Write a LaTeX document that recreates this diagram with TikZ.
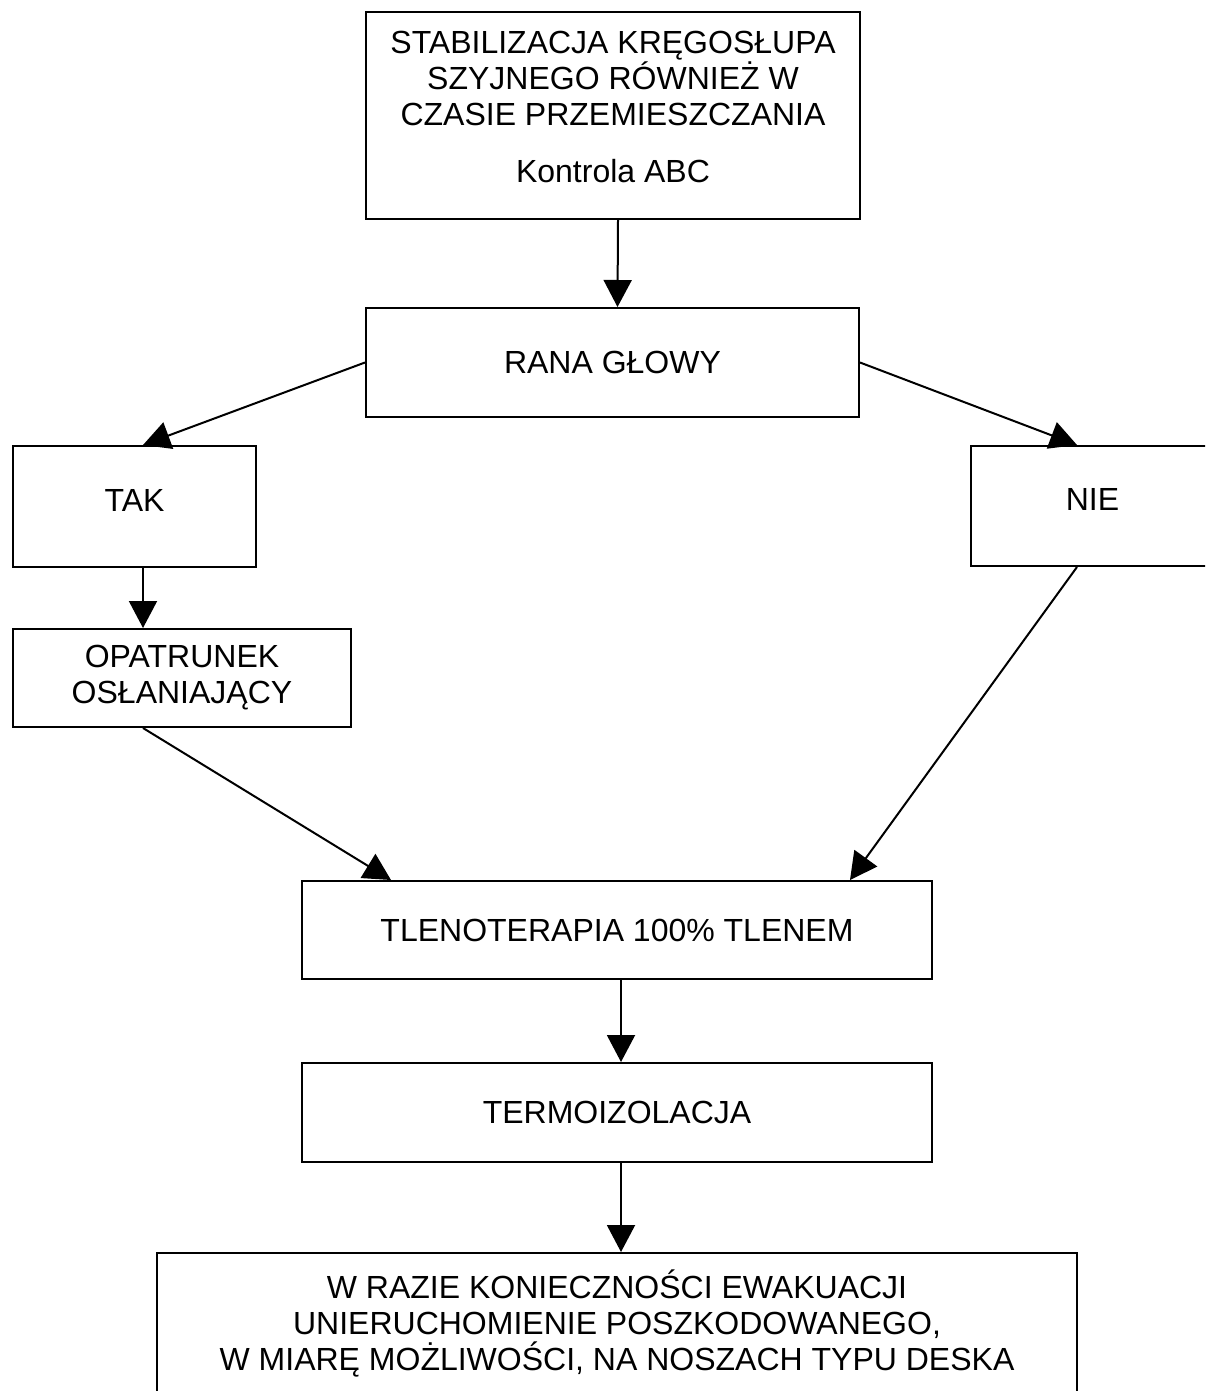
\documentclass[tikz,border=0pt]{standalone}
\usepackage{fontspec}
\setmainfont{Liberation Sans}
\usetikzlibrary{arrows.meta}

\begin{document}
\begin{tikzpicture}[x=0.5pt,y=-0.5pt,
  box/.style={draw, line width=1pt, rectangle, align=center, inner sep=0pt,
    font=\fontsize{16}{18}\selectfont},
  arr/.style={line width=1pt, -{Triangle[length=13.5pt,width=14pt]}}]
\clip (0,0) rectangle (1205,1391);

\node[box, minimum width=247pt, minimum height=103.5pt] (top) at (613,115.5)
  {STABILIZACJA KRĘGOSŁUPA\\SZYJNEGO RÓWNIEŻ W\\CZASIE PRZEMIESZCZANIA\\[10.5pt]Kontrola ABC\rule[-9pt]{0pt}{9pt}};
\node[box, minimum width=246.5pt, minimum height=54.5pt] (head) at (612.5,362.5) {RANA GŁOWY};
\node[box, minimum width=121.5pt, minimum height=60.5pt, text depth=6.5pt] (yes) at (134.5,506.5) {TAK};
\node[box, minimum width=121.5pt, minimum height=60pt, text depth=6.5pt] (no) at (1092.5,506) {NIE};
\node[box, minimum width=169pt, minimum height=49pt] (dress) at (182,678) {OPATRUNEK\\OSŁANIAJĄCY};
\node[box, minimum width=315pt, minimum height=49pt] (oxy) at (617,930) {TLENOTERAPIA 100\% TLENEM};
\node[box, minimum width=315pt, minimum height=49.5pt] (therm) at (617,1112.5) {TERMOIZOLACJA};
\node[box, minimum width=460pt, minimum height=70.5pt] (evac) at (617,1323.5)
  {W RAZIE KONIECZNOŚCI EWAKUACJI\\UNIERUCHOMIENIE POSZKODOWANEGO,\\W MIARĘ MOŻLIWOŚCI, NA NOSZACH TYPU DESKA};

\draw[arr] ([xshift=2.5pt]top.south) -- ([xshift=2.5pt]head.north);
\draw[arr] (head.west) -- ([xshift=4.25pt]yes.north);
\draw[arr] (head.east) -- ([xshift=-7.75pt]no.north);
\draw[arr] ([xshift=4.25pt]yes.south) -- ([xshift=-19.5pt]dress.north);
\draw[arr] ([xshift=-19.5pt]dress.south) -- ([xshift=-113pt]oxy.north);
\draw[arr] ([xshift=-7.75pt]no.south) -- ([xshift=116.5pt]oxy.north);
\draw[arr] ([xshift=2pt]oxy.south) -- ([xshift=2pt]therm.north);
\draw[arr] ([xshift=2pt]therm.south) -- ([xshift=2pt]evac.north);
\end{tikzpicture}
\end{document}
